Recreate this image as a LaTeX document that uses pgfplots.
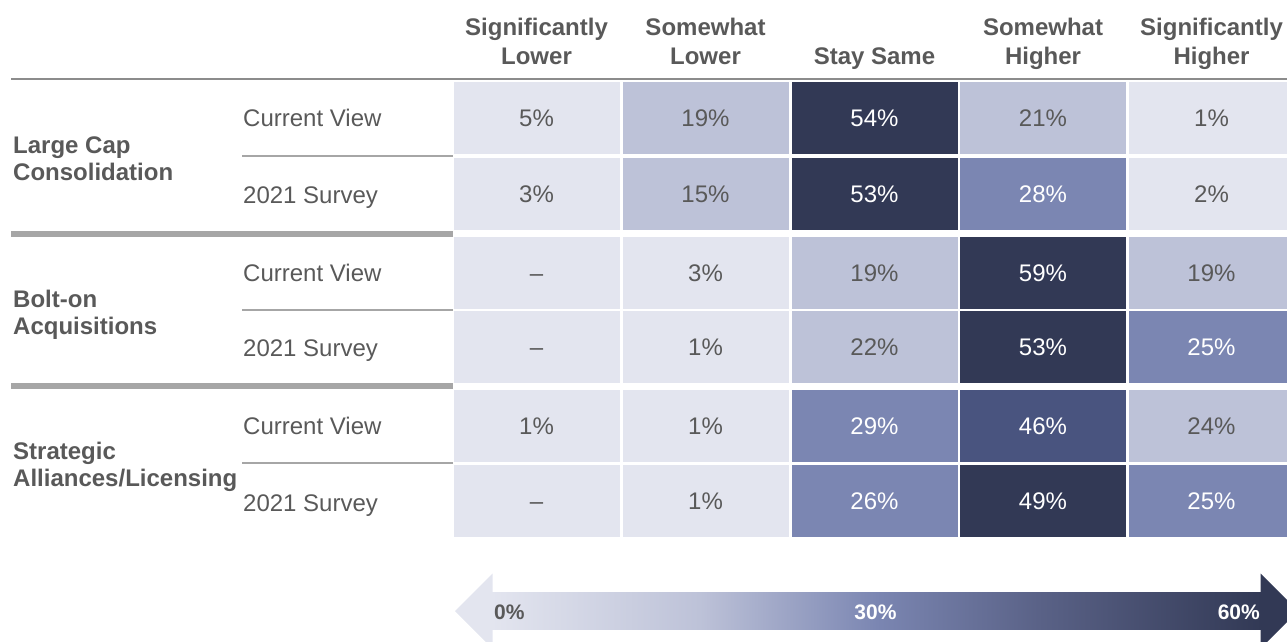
\documentclass[border=0pt]{standalone}
\usepackage{fontspec}
\setmainfont{Liberation Sans}
\usepackage{pgfplots}
\usepackage{pgfplotstable}
\pgfplotsset{compat=1.18}

\definecolor{c1}{HTML}{E3E5EF}
\definecolor{c2}{HTML}{BDC2D8}
\definecolor{c3}{HTML}{7B86B2}
\definecolor{c4}{HTML}{49547F}
\definecolor{c5}{HTML}{323955}
\definecolor{cm}{HTML}{5A6287}
\definecolor{tgray}{HTML}{595959}
\definecolor{lgray}{HTML}{A6A6A6}
\definecolor{hgray}{HTML}{8C8C8C}

\newcommand\labfont{\fontsize{24}{27.5}\selectfont}
\newcommand\arrfont{\fontsize{21}{24}\selectfont\bfseries}
\newcommand\W[1]{\textcolor{white}{#1}}

% gradient of the key (path is mapped onto 25bp..75bp)
\pgfdeclarehorizontalshading{keyshade}{100bp}{%
  color(0bp)=(c1); color(25bp)=(c1); color(38.5bp)=(c2); color(50bp)=(c3);
  color(60.5bp)=(cm); color(75bp)=(c5); color(100bp)=(c5)}

% one cell of the heat table, drawn in canvas units
\pgfdeclareplotmark{cell}{%
  \pgfpathrectangle{\pgfpoint{-83pt}{-36pt}}{\pgfpoint{166pt}{72pt}}%
  \pgfusepathqfill}

% x, y = cell centre (px), cls = shade bin, lab = printed value (\W = white text)
\pgfplotstableread{
x      y      cls lab
536.5  117.5  a   5\%
705.5  117.5  b   19\%
874.5  117.5  e   \W{54\%}
1043   117.5  b   21\%
1211.5 117.5  a   1\%
536.5  194    a   3\%
705.5  194    b   15\%
874.5  194    e   \W{53\%}
1043   194    c   \W{28\%}
1211.5 194    a   2\%
536.5  272.5  a   –
705.5  272.5  a   3\%
874.5  272.5  b   19\%
1043   272.5  e   \W{59\%}
1211.5 272.5  b   19\%
536.5  346.5  a   –
705.5  346.5  a   1\%
874.5  346.5  b   22\%
1043   346.5  e   \W{53\%}
1211.5 346.5  c   \W{25\%}
536.5  425.5  a   1\%
705.5  425.5  a   1\%
874.5  425.5  c   \W{29\%}
1043   425.5  d   \W{46\%}
1211.5 425.5  b   24\%
536.5  501    a   –
705.5  501    a   1\%
874.5  501    c   \W{26\%}
1043   501    e   \W{49\%}
1211.5 501    c   \W{25\%}
}\cells

\begin{document}
\begin{tikzpicture}
\begin{axis}[
  scale only axis, width=1287pt, height=641pt,
  xmin=0, xmax=1287, ymin=0, ymax=641, y dir=reverse,
  hide axis, clip marker paths=true,
]
  % heat cells
  \addplot[scatter, only marks, mark=cell, scatter src=explicit symbolic,
    scatter/classes={a={mark=cell,c1}, b={mark=cell,c2}, c={mark=cell,c3},
                     d={mark=cell,c4}, e={mark=cell,c5}}]
    table[x=x, y=y, meta=cls] {\cells};
  % cell values
  \addplot[draw=none, mark=none, point meta=explicit symbolic,
    nodes near coords,
    every node near coord/.append style={font=\labfont, text=tgray,
      anchor=base, yshift=-8.5pt, inner sep=0pt}]
    table[x=x, y=y, meta=lab] {\cells};

  % rules
  \draw[hgray, line width=2.5pt] (axis cs:11,79) -- (axis cs:1287,79);
  \draw[lgray, line width=6pt] (axis cs:11,234) -- (axis cs:453,234);
  \draw[lgray, line width=6pt] (axis cs:11,386) -- (axis cs:453,386);
  \draw[lgray, line width=2pt] (axis cs:242,155.5) -- (axis cs:453,155.5);
  \draw[lgray, line width=2pt] (axis cs:242,309.5) -- (axis cs:453,309.5);
  \draw[lgray, line width=2pt] (axis cs:242,462.5) -- (axis cs:453,462.5);

  % column heads
  \begin{scope}[every node/.style={anchor=base, font=\labfont\bfseries, text=tgray, inner sep=0pt}]
    \node at (axis cs:536.5,35) {Significantly};
    \node at (axis cs:536.5,64) {Lower};
    \node at (axis cs:705.5,35) {Somewhat};
    \node at (axis cs:705.5,64) {Lower};
    \node at (axis cs:874.5,64) {Stay Same};
    \node at (axis cs:1043,35) {Somewhat};
    \node at (axis cs:1043,64) {Higher};
    \node at (axis cs:1211.5,35) {Significantly};
    \node at (axis cs:1211.5,64) {Higher};
  \end{scope}

  % row heads
  \begin{scope}[every node/.style={anchor=base west, font=\labfont, text=tgray, inner sep=0pt}]
    \node at (axis cs:243,126.5) {Current View};
    \node at (axis cs:243,203.5) {2021 Survey};
    \node at (axis cs:243,281) {Current View};
    \node at (axis cs:243,356) {2021 Survey};
    \node at (axis cs:243,434) {Current View};
    \node at (axis cs:243,511) {2021 Survey};
    \node[font=\labfont\bfseries] at (axis cs:13,153) {Large Cap};
    \node[font=\labfont\bfseries] at (axis cs:13,180.5) {Consolidation};
    \node[font=\labfont\bfseries] at (axis cs:13,307) {Bolt-on};
    \node[font=\labfont\bfseries] at (axis cs:13,334.5) {Acquisitions};
    \node[font=\labfont\bfseries] at (axis cs:13,459) {Strategic};
    \node[font=\labfont\bfseries] at (axis cs:13,486.5) {Alliances/Licensing};
  \end{scope}

  % colour key arrow
  \fill[c1] (axis cs:455,611) -- (axis cs:492.5,573.5) -- (axis cs:492.5,648.5) -- cycle;
  \fill[c5] (axis cs:1260.5,573.5) -- (axis cs:1298,611) -- (axis cs:1260.5,648.5) -- cycle;
  \shade[shading=keyshade]
    (axis cs:492,592.5) rectangle (axis cs:1261,629.5);
  \node[anchor=base west, font=\arrfont, text=tgray, inner sep=0pt] at (axis cs:494,619) {0\%};
  \node[anchor=base, font=\arrfont, text=white, inner sep=0pt] at (axis cs:875.5,619) {30\%};
  \node[anchor=base east, font=\arrfont, text=white, inner sep=0pt] at (axis cs:1260,619) {60\%};

  \coordinate (bbA) at (rel axis cs:0,0);
  \coordinate (bbB) at (rel axis cs:1,1);
\end{axis}
\pgfresetboundingbox
\useasboundingbox (bbA) rectangle (bbB);
\end{tikzpicture}
\end{document}
